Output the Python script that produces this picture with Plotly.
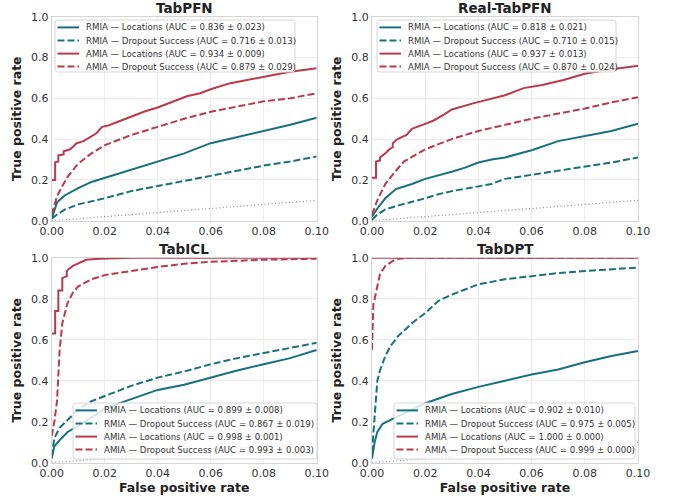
import plotly.graph_objects as go

TEAL = "#17707e"
RED = "#b83a4b"

panel_titles = ["TabPFN", "Real-TabPFN", "TabICL", "TabDPT"]
series_names = ["RMIA — Locations", "RMIA — Dropout Success", "AMIA — Locations", "AMIA — Dropout Success"]

auc_labels = [
    ["0.836 ± 0.023", "0.716 ± 0.013", "0.934 ± 0.009", "0.879 ± 0.029"],
    ["0.818 ± 0.021", "0.710 ± 0.015", "0.937 ± 0.013", "0.870 ± 0.024"],
    ["0.899 ± 0.008", "0.867 ± 0.019", "0.998 ± 0.001", "0.993 ± 0.003"],
    ["0.902 ± 0.010", "0.975 ± 0.005", "1.000 ± 0.000", "0.999 ± 0.000"],
]

# ---- TabPFN ----
pfn_rmia_loc_fpr = [0, 0.001, 0.002, 0.005, 0.01, 0.015, 0.02, 0.03, 0.04, 0.05, 0.06, 0.07, 0.08, 0.09, 0.10]
pfn_rmia_loc_tpr = [0.01, 0.05, 0.09, 0.125, 0.16, 0.19, 0.21, 0.25, 0.29, 0.33, 0.38, 0.41, 0.44, 0.47, 0.505]
pfn_rmia_drop_fpr = [0, 0.002, 0.005, 0.01, 0.02, 0.03, 0.04, 0.05, 0.06, 0.07, 0.08, 0.09, 0.10]
pfn_rmia_drop_tpr = [0.01, 0.03, 0.055, 0.08, 0.11, 0.145, 0.17, 0.195, 0.22, 0.245, 0.27, 0.29, 0.315]
pfn_amia_loc_fpr = [0, 0.0013, 0.0013, 0.0025, 0.0025, 0.0045, 0.0045, 0.007, 0.0094, 0.012, 0.0145, 0.017, 0.019,
                    0.021, 0.025, 0.030, 0.035, 0.040, 0.045, 0.051, 0.056, 0.060, 0.067, 0.074, 0.081, 0.090, 0.100]
pfn_amia_loc_tpr = [0.20, 0.20, 0.286, 0.29, 0.32, 0.325, 0.34, 0.35, 0.38, 0.39, 0.41, 0.43, 0.46,
                    0.465, 0.485, 0.51, 0.535, 0.555, 0.58, 0.61, 0.625, 0.644, 0.673, 0.69, 0.71, 0.73, 0.747]
pfn_amia_drop_fpr = [0, 0.002, 0.004, 0.006, 0.01, 0.015, 0.02, 0.03, 0.04, 0.05, 0.06, 0.07, 0.08, 0.09, 0.10]
pfn_amia_drop_tpr = [0.03, 0.12, 0.17, 0.215, 0.28, 0.33, 0.37, 0.42, 0.46, 0.50, 0.534, 0.56, 0.585, 0.60, 0.625]

# ---- Real-TabPFN ----
real_rmia_loc_fpr = [0, 0.002, 0.005, 0.009, 0.015, 0.02, 0.03, 0.035, 0.04, 0.045, 0.05, 0.06, 0.07, 0.08, 0.09, 0.10]
real_rmia_loc_tpr = [0.02, 0.06, 0.11, 0.155, 0.18, 0.205, 0.24, 0.26, 0.285, 0.30, 0.31, 0.345, 0.39, 0.415, 0.44, 0.475]
real_rmia_drop_fpr = [0, 0.002, 0.005, 0.01, 0.02, 0.025, 0.03, 0.04, 0.045, 0.05, 0.06, 0.07, 0.08, 0.09, 0.10]
real_rmia_drop_tpr = [0.005, 0.03, 0.055, 0.075, 0.11, 0.13, 0.145, 0.17, 0.18, 0.205, 0.225, 0.245, 0.265, 0.285, 0.31]
real_amia_loc_fpr = [0, 0.0015, 0.0015, 0.003, 0.003, 0.005, 0.0065, 0.0078, 0.0078, 0.0096, 0.013, 0.015, 0.019,
                     0.023, 0.027, 0.030, 0.038, 0.045, 0.050, 0.057, 0.064, 0.072, 0.080, 0.089, 0.100]
real_amia_loc_tpr = [0.21, 0.21, 0.29, 0.295, 0.31, 0.33, 0.35, 0.36, 0.38, 0.40, 0.42, 0.45, 0.47,
                     0.49, 0.52, 0.545, 0.575, 0.60, 0.615, 0.65, 0.665, 0.69, 0.72, 0.74, 0.76]
real_amia_drop_fpr = [0, 0.002, 0.005, 0.008, 0.012, 0.02, 0.03, 0.04, 0.05, 0.06, 0.07, 0.08, 0.09, 0.10]
real_amia_drop_tpr = [0.03, 0.10, 0.18, 0.23, 0.29, 0.35, 0.40, 0.44, 0.47, 0.50, 0.525, 0.55, 0.58, 0.605]

# ---- TabICL ----
icl_rmia_loc_fpr = [0, 0.001, 0.003, 0.006, 0.01, 0.015, 0.02, 0.03, 0.04, 0.05, 0.06, 0.07, 0.08, 0.09, 0.10]
icl_rmia_loc_tpr = [0.02, 0.08, 0.11, 0.15, 0.18, 0.22, 0.265, 0.31, 0.355, 0.38, 0.415, 0.45, 0.48, 0.51, 0.55]
icl_rmia_drop_fpr = [0, 0.001, 0.003, 0.006, 0.01, 0.015, 0.02, 0.03, 0.04, 0.05, 0.06, 0.07, 0.08, 0.09, 0.10]
icl_rmia_drop_tpr = [0.03, 0.12, 0.17, 0.21, 0.26, 0.30, 0.325, 0.375, 0.415, 0.445, 0.48, 0.51, 0.535, 0.56, 0.585]
icl_amia_loc_fpr = [0, 0.0013, 0.0013, 0.0025, 0.0025, 0.004, 0.004, 0.0057, 0.0057, 0.006, 0.008, 0.011, 0.013, 0.018, 0.03, 0.10]
icl_amia_loc_tpr = [0.63, 0.63, 0.74, 0.74, 0.84, 0.84, 0.90, 0.91, 0.93, 0.94, 0.96, 0.98, 0.99, 0.995, 1.0, 1.0]
icl_amia_drop_fpr = [0, 0.001, 0.002, 0.003, 0.004, 0.006, 0.008, 0.01, 0.015, 0.02, 0.03, 0.04, 0.05, 0.06, 0.08, 0.10]
icl_amia_drop_tpr = [0.13, 0.20, 0.30, 0.55, 0.68, 0.78, 0.83, 0.86, 0.895, 0.915, 0.935, 0.955, 0.97, 0.98, 0.99, 0.995]

# ---- TabDPT ----
dpt_rmia_loc_fpr = [0, 0.001, 0.002, 0.004, 0.008, 0.015, 0.02, 0.03, 0.04, 0.05, 0.06, 0.07, 0.08, 0.09, 0.10]
dpt_rmia_loc_tpr = [0.02, 0.10, 0.15, 0.19, 0.215, 0.26, 0.29, 0.335, 0.37, 0.40, 0.43, 0.455, 0.49, 0.52, 0.545]
dpt_rmia_drop_fpr = [0, 0.001, 0.002, 0.003, 0.005, 0.007, 0.01, 0.015, 0.02, 0.025, 0.03, 0.04, 0.05, 0.06, 0.07, 0.08, 0.09, 0.10]
dpt_rmia_drop_tpr = [0.05, 0.25, 0.40, 0.45, 0.52, 0.57, 0.62, 0.68, 0.73, 0.79, 0.82, 0.87, 0.895, 0.91, 0.925, 0.935, 0.945, 0.952]
dpt_amia_loc_fpr = [0, 0.10]
dpt_amia_loc_tpr = [1.0, 1.0]
dpt_amia_drop_fpr = [0, 0.0005, 0.001, 0.002, 0.003, 0.005, 0.008, 0.01, 0.015, 0.10]
dpt_amia_drop_tpr = [0.55, 0.77, 0.80, 0.86, 0.92, 0.96, 0.985, 0.995, 1.0, 1.0]

panel_data = [
    [(pfn_rmia_loc_fpr, pfn_rmia_loc_tpr), (pfn_rmia_drop_fpr, pfn_rmia_drop_tpr),
     (pfn_amia_loc_fpr, pfn_amia_loc_tpr), (pfn_amia_drop_fpr, pfn_amia_drop_tpr)],
    [(real_rmia_loc_fpr, real_rmia_loc_tpr), (real_rmia_drop_fpr, real_rmia_drop_tpr),
     (real_amia_loc_fpr, real_amia_loc_tpr), (real_amia_drop_fpr, real_amia_drop_tpr)],
    [(icl_rmia_loc_fpr, icl_rmia_loc_tpr), (icl_rmia_drop_fpr, icl_rmia_drop_tpr),
     (icl_amia_loc_fpr, icl_amia_loc_tpr), (icl_amia_drop_fpr, icl_amia_drop_tpr)],
    [(dpt_rmia_loc_fpr, dpt_rmia_loc_tpr), (dpt_rmia_drop_fpr, dpt_rmia_drop_tpr),
     (dpt_amia_loc_fpr, dpt_amia_loc_tpr), (dpt_amia_drop_fpr, dpt_amia_drop_tpr)],
]

chance_fpr = [0, 0.1]
chance_tpr = [0, 0.1]

x_ticks = [0, 0.02, 0.04, 0.06, 0.08, 0.10]
y_ticks = [0, 0.2, 0.4, 0.6, 0.8, 1.0]

# ---------------- layout (page pixels; body margin removed via post_script) ----------------
W, H = 673, 496


def px(x):
    return x / W


def py(y):
    return 1 - y / H


xdoms = [(px(51.7), px(316.7)), (px(372), px(638))]
ydoms = [(py(220.7), py(16.7)), (py(462.7), py(257.7))]

# legend boxes: (left, top, right, bottom) in page pixels
legend_boxes = [(55, 20, 295, 72), (377, 20, 616, 72), (73, 403, 317, 459), (394, 403, 635, 459)]
row_offsets = [7.4, 20.5, 33.6, 46.6]

styles = [(TEAL, "solid"), (TEAL, "7px,3px"), (RED, "solid"), (RED, "7px,3px")]

FONT = "DejaVu Sans"
fig = go.Figure()


def rounded_rect(l, t, r, b, rad=3):
    L, R, T, B = px(l), px(r), py(t), py(b)
    dx, dy = rad / W, rad / H
    return (f"M {L+dx},{T} L {R-dx},{T} Q {R},{T} {R},{T-dy} L {R},{B+dy} Q {R},{B} {R-dx},{B} "
            f"L {L+dx},{B} Q {L},{B} {L},{B+dy} L {L},{T-dy} Q {L},{T} {L+dx},{T} Z")


shapes = []
annotations = []

for p in range(4):
    r, c = divmod(p, 2)
    ax = "" if p == 0 else str(p + 1)
    fig.add_trace(go.Scatter(x=chance_fpr, y=chance_tpr, mode="lines",
                             line=dict(color="#8a8a8a", width=1.2, dash="1px,2.5px"),
                             showlegend=False, hoverinfo="skip",
                             xaxis="x" + ax, yaxis="y" + ax))
    for s in range(4):
        fx, ty = panel_data[p][s]
        col, dash = styles[s]
        fig.add_trace(go.Scatter(x=fx, y=ty, mode="lines",
                                 line=dict(color=col, width=2, dash=dash),
                                 name=f"{series_names[s]} (AUC = {auc_labels[p][s]})",
                                 showlegend=False, xaxis="x" + ax, yaxis="y" + ax))
    axis_common = dict(showgrid=True, gridcolor="#ececec", gridwidth=1, zeroline=False,
                       showline=True, linecolor="#d5d5d5", linewidth=1, mirror=True,
                       ticks="", automargin=False,
                       tickfont=dict(family=FONT, size=11, color="#333333"))
    xa = dict(domain=list(xdoms[c]), range=[0, 0.1], tickvals=x_ticks, tickformat=".2f",
              anchor="y" + ax, **axis_common)
    ya = dict(domain=list(ydoms[r]), range=[0, 1], tickvals=y_ticks, tickformat=".1f",
              anchor="x" + ax,
              title=dict(text="<b>True positive rate</b>", font=dict(family=FONT, size=12.5, color="#222222"),
                         standoff=6),
              **axis_common)
    if r == 1:
        xa["title"] = dict(text="<b>False positive rate</b>", font=dict(family=FONT, size=12.5, color="#222222"),
                           standoff=4)
    fig.update_layout(**{"xaxis" + ax: xa, "yaxis" + ax: ya})

    # title
    annotations.append(dict(text=f"<b>{panel_titles[p]}</b>", x=(xdoms[c][0] + xdoms[c][1]) / 2,
                            y=ydoms[r][1], xref="paper", yref="paper", xanchor="center", yanchor="bottom",
                            yshift=-1, showarrow=False, font=dict(family=FONT, size=13.5, color="#222222")))

    # legend (drawn manually for matplotlib-like compact spacing)
    l, t, rr, b = legend_boxes[p]
    shapes.append(dict(type="path", path=rounded_rect(l, t, rr, b), xref="paper", yref="paper",
                       fillcolor="rgba(255,255,255,0.82)", line=dict(color="#d6d6d6", width=1), layer="above"))
    for s in range(4):
        col, dash = styles[s]
        yy = t + row_offsets[s]
        shapes.append(dict(type="line", xref="paper", yref="paper", x0=px(l + 2.5), x1=px(l + 24),
                           y0=py(yy), y1=py(yy), line=dict(color=col, width=2, dash=dash), layer="above"))
        annotations.append(dict(text=f"{series_names[s]} (AUC = {auc_labels[p][s]})", x=px(l + 29), y=py(yy),
                                xref="paper", yref="paper", xanchor="left", yanchor="middle", showarrow=False,
                                font=dict(family=FONT, size=8.6, color="#333333")))

fig.update_layout(width=W, height=H, margin=dict(l=0, r=0, t=0, b=0),
                  paper_bgcolor="white", plot_bgcolor="white", showlegend=False,
                  font=dict(family=FONT), shapes=shapes, annotations=annotations)

fig.write_html("out.html", config={"displayModeBar": False},
               post_script="document.body.style.margin='0';document.body.style.overflow='hidden';")
